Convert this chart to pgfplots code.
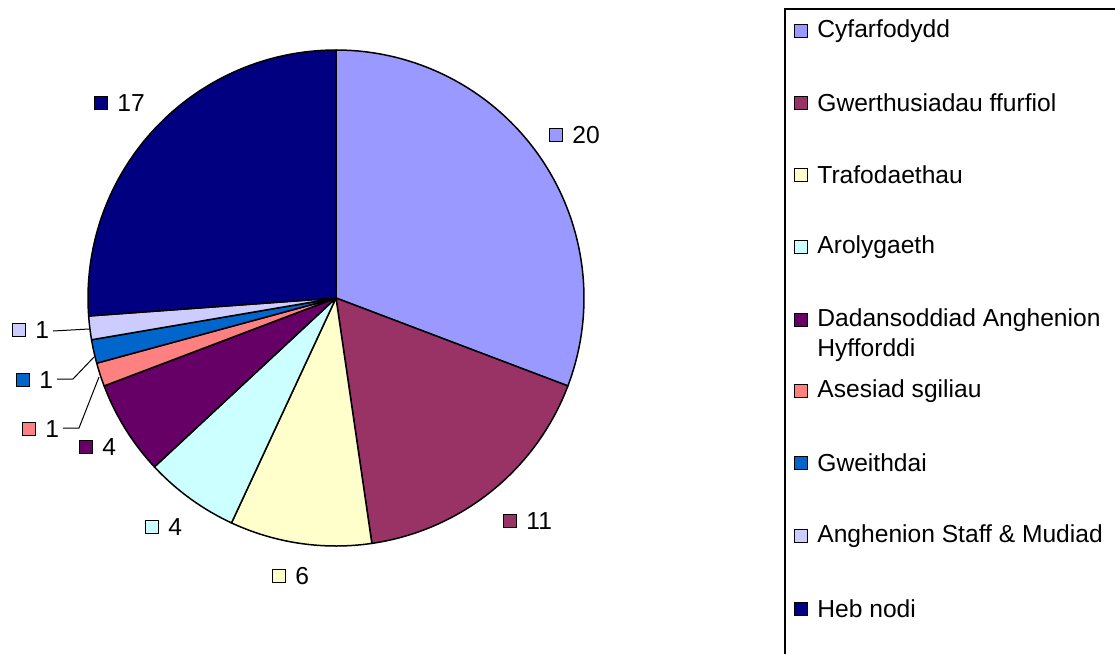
\documentclass[border=0pt]{standalone}
\usepackage{fontspec}
\setmainfont{Liberation Sans}
\usepackage{pgfplots}
\pgfplotsset{compat=1.18}
\definecolor{c1}{HTML}{9999FF}
\definecolor{c2}{HTML}{993366}
\definecolor{c3}{HTML}{FFFFCC}
\definecolor{c4}{HTML}{CCFFFF}
\definecolor{c5}{HTML}{660066}
\definecolor{c6}{HTML}{FF8080}
\definecolor{c7}{HTML}{0066CC}
\definecolor{c8}{HTML}{CCCCFF}
\definecolor{c9}{HTML}{000080}
\newcommand\lf{\fontsize{12.3}{14.5}\selectfont}
% slice: #1 = cumulative value before, #2 = value, #3 = colour; total 65
\newcommand\slice[3]{%
  \pgfmathsetmacro\aS{#1/65*360}%
  \pgfmathsetmacro\aE{(#1+#2)/65*360}%
  \edef\tmp{\noexpand\addplot[fill=#3,draw=black,line width=0.75pt,line join=round,domain=\aS:\aE,samples=90,variable=\noexpand\t]
    ({336+248*sin(\noexpand\t)},{298-248*cos(\noexpand\t)}) -- (axis cs:336,298) -- cycle;}%
  \tmp}
\newcommand\lab[4]{% x y colour text
  \addplot[only marks,mark=square*,mark size=3.2pt,mark options={fill=#3,draw=black,line width=0.6pt}] coordinates {(#1,#2)};
  \node[anchor=west,inner sep=0pt,font=\lf] at (axis cs:#1+16,#2) {#4};}
\begin{document}
\begin{tikzpicture}
\begin{axis}[
  width=557.5pt, height=327pt, scale only axis,
  xmin=0, xmax=1115, ymin=0, ymax=654, y dir=reverse,
  hide axis, clip=true,
]
\path (axis cs:0,0) rectangle (axis cs:1115,654);
\slice{0}{20}{c1}
\slice{20}{11}{c2}
\slice{31}{6}{c3}
\slice{37}{4}{c4}
\slice{41}{4}{c5}
\slice{45}{1}{c6}
\slice{46}{1}{c7}
\slice{47}{1}{c8}
\slice{48}{17}{c9}
% leader lines
\addplot[black,line width=0.5pt] coordinates {(53,331) (89,329)};
\addplot[black,line width=0.5pt] coordinates {(57,379) (73,379) (94,357)};
\addplot[black,line width=0.5pt] coordinates {(63,428) (79,428) (99,377)};
% data labels
\lab{556}{135}{c1}{20}
\lab{510}{521}{c2}{11}
\lab{279}{576}{c3}{6}
\lab{152}{527}{c4}{4}
\lab{86}{447}{c5}{4}
\lab{29}{429}{c6}{1}
\lab{23}{380}{c7}{1}
\lab{19}{330}{c8}{1}
\lab{101}{103}{c9}{17}
% legend
\draw[black,line width=0.7pt] (axis cs:1115,9) -- (axis cs:785,9) -- (axis cs:785,654);
\lab{801}{31}{c1}{Cyfarfodydd}
\lab{801}{103}{c2}{Gwerthusiadau ffurfiol}
\lab{801}{175}{c3}{Trafodaethau}
\lab{801}{247}{c4}{Arolygaeth}
\lab{801}{320}{c5}{Dadansoddiad Anghenion}
\node[anchor=west,inner sep=0pt,font=\lf] at (axis cs:817,350) {Hyfforddi};
\lab{801}{391}{c6}{Asesiad sgiliau}
\lab{801}{463}{c7}{Gweithdai}
\lab{801}{536}{c8}{Anghenion Staff \& Mudiad}
\lab{801}{609}{c9}{Heb nodi}
\end{axis}
\end{tikzpicture}
\end{document}
